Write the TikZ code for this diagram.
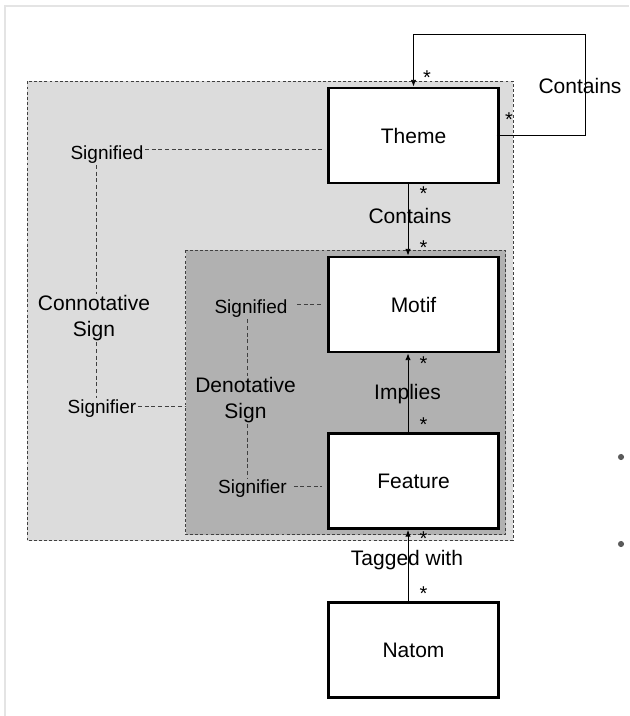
\documentclass[tikz,border=0pt]{standalone}
\usepackage{fontspec}
\setmainfont{Liberation Sans}
\usetikzlibrary{arrows.meta}

\definecolor{outerbg}{HTML}{DCDCDC}
\definecolor{innerbg}{HTML}{B1B1B1}
\definecolor{framegray}{HTML}{E4E4E4}
\definecolor{dotgray}{HTML}{5A5A5A}

\tikzset{
  cls/.style={draw=black, line width=2.2pt, fill=white, minimum width=127.5pt,
    minimum height=71.25pt, inner sep=0pt, font=\fontsize{15.75}{18}\selectfont},
  biglabel/.style={inner sep=1pt, font=\fontsize{15.75}{19.5}\selectfont, align=center},
  smalllabel/.style={inner sep=1pt, font=\fontsize{14.25}{17}\selectfont},
  mult/.style={inner sep=0pt, anchor=base, font=\fontsize{15}{15}\selectfont},
  assoc/.style={draw=black, line width=0.6pt, -{Latex[length=5pt,width=4pt]}},
  signline/.style={draw=black!75, line width=0.55pt, dash pattern=on 3pt off 2pt},
  region/.style={draw=black!75, line width=0.55pt, dash pattern=on 2.2pt off 1.6pt}
}

\begin{document}
\begin{tikzpicture}[x=0.75pt, y=-0.75pt]
\useasboundingbox (0,0) rectangle (629,716);

% faint page frame
\draw[framegray, line width=1.5pt] (5,716) -- (5,6) -- (629,6);

% sign regions
\path[region, fill=outerbg] (27,81.5) rectangle (513,540.5);
\path[region, fill=innerbg] (185.5,250.5) rectangle (505.5,534.5);

% classes
\node[cls] (Theme)   at (413.5,135.5) {Theme};
\node[cls] (Motif)   at (413.5,304.5) {Motif};
\node[cls] (Feature) at (413.5,481)   {Feature};
\node[cls] (Natom)   at (413.5,650)   {Natom};

% helper columns
\coordinate (vx) at (408,0);
\coordinate (cl) at (96,0);
\coordinate (dl) at (247,0);
\coordinate (loopR) at (585,34);

% associations
\draw[assoc] (Theme.south -| vx) -- (Motif.north -| vx);
\draw[assoc] (Feature.north -| vx) -- (Motif.south -| vx);
\draw[assoc] (Natom.north -| vx) -- (Feature.south -| vx);

\node[biglabel] (lblTop) at (580,86) {Contains};
\draw[assoc] ([xshift=-2.5pt]Theme.east) -| (loopR) -| (Theme.north);

\node[biglabel] (lblContains) at (410,216) {Contains};
\node[biglabel] (lblImplies)  at (407.5,394) {Implies};
\node[biglabel] (lblTagged)   at (407,560.5) {Tagged with};

% multiplicities
\node[mult] (m1) at (427,85) {*};
\node[mult] (m2) at (509,127) {*};
\node[mult] (m3) at (423.5,201) {*};
\node[mult] (m4) at (423.5,254) {*};
\node[mult] (m5) at (423.5,370) {*};
\node[mult] (m6) at (423.5,431) {*};
\node[mult] (m7) at (423.5,545) {*};
\node[mult] (m8) at (423.5,600) {*};

% connotative sign
\node[smalllabel] (cSignified) at (107,154.5) {Signified};
\node[biglabel]   (cSign)      at (94,318) {Connotative\\Sign};
\node[smalllabel] (cSignifier) at (102,408.5) {Signifier};
\draw[signline] ([yshift=4pt]cSignified.east) -- ([yshift=4pt,xshift=-3.5pt]Theme.west |- cSignified.east);
\draw[signline] (cSignified.south -| cl) -- (cSign.north -| cl);
\draw[signline] (cSign.south -| cl) -- (cSignifier.north -| cl);
\draw[signline] ([yshift=1.8pt]cSignifier.east) -- ([yshift=1.8pt]185.5,408.5);

% denotative sign
\node[smalllabel] (dSignified) at (251,309) {Signified};
\node[biglabel]   (dSign)      at (245.5,400) {Denotative\\Sign};
\node[smalllabel] (dSignifier) at (252.5,488.5) {Signifier};
\draw[signline] ([yshift=3.6pt,xshift=6pt]dSignified.east) -- ([yshift=3.6pt,xshift=-3.5pt]Motif.west |- dSignified.east);
\draw[signline] (dSignified.south -| dl) -- (dSign.north -| dl);
\draw[signline] (dSign.south -| dl) -- (dSignifier.north -| dl);
\draw[signline] ([yshift=1.4pt,xshift=4pt]dSignifier.east) -- ([yshift=1.4pt,xshift=-3.5pt]Feature.west |- dSignifier.east);

% bullets at the right margin
\fill[dotgray] (621,457) circle (2.3pt);
\fill[dotgray] (621,544) circle (2.3pt);
\end{tikzpicture}
\end{document}
